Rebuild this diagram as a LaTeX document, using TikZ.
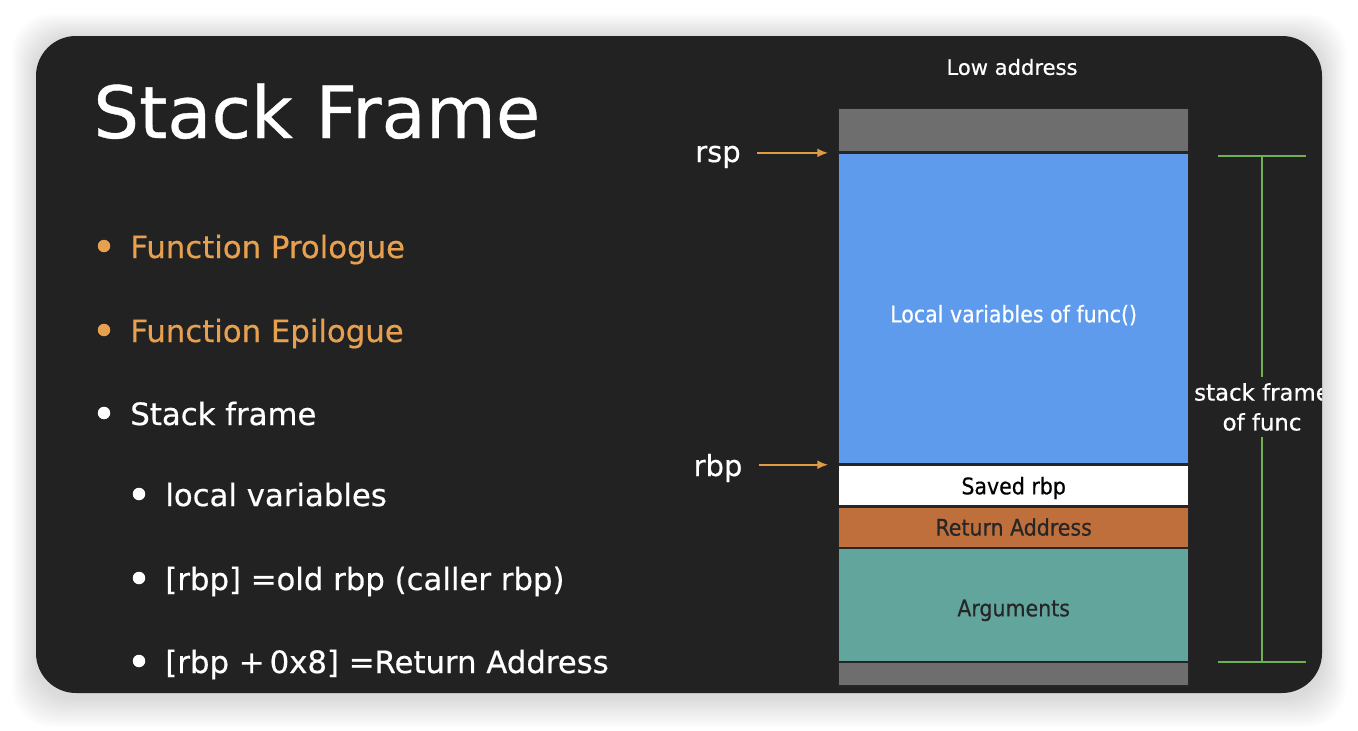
\documentclass[tikz,border=0pt]{standalone}
\usepackage{fontspec}
\setmainfont{DejaVu Sans}[FakeBold=0.5]
\newfontfamily\narrowfont{DejaVu Sans Condensed}[FakeBold=0.5]
\usepackage{tikz}
\usetikzlibrary{positioning}
\usetikzlibrary{arrows.meta}
\usepackage{xcolor}

\definecolor{panelbg}{HTML}{222222}
\definecolor{accent}{HTML}{E6A04E}
\definecolor{ptror}{HTML}{E39A45}
\definecolor{slotgray}{HTML}{6E6E6E}
\definecolor{localblue}{HTML}{5F9BEC}
\definecolor{retor}{HTML}{BF6F3B}
\definecolor{argteal}{HTML}{62A59D}
\definecolor{framegreen}{HTML}{6FAF55}

\begin{document}
\begin{tikzpicture}[x=0.02cm, y=-0.02cm,
    slot/.style={draw=black!85, line width=0.8pt, minimum width=7cm, inner sep=0pt,
        font=\narrowfont\fontsize{13}{15}\selectfont},
    ptr/.style={-{Latex[length=6pt,width=5pt]}, draw=ptror, line width=1pt,
        shorten <=0.32cm, shorten >=0.2cm},
    dot/.style={circle, inner sep=0pt, minimum size=0.25cm},
    item/.style={anchor=base west, inner sep=0pt, font=\fontsize{17.5}{20}\selectfont},
    reg/.style={anchor=base, inner sep=0pt, text=white, font=\fontsize{16.5}{20}\selectfont},
    brace/.style={draw=framegreen, line width=0.9pt}]
    \useasboundingbox[fill=white] (0,0) rectangle (1358,730);

    % Slide panel with a soft shadow
    \foreach \i in {1,...,12}
        \fill[black, opacity=0.012, rounded corners=0.8cm]
            (36-2*\i,38-2*\i) rectangle (1322+2*\i,697+2.5*\i);
    \fill[panelbg, rounded corners=0.8cm] (36,36) rectangle (1322,693);

    \begin{scope}
    \clip[rounded corners=0.8cm] (36,36) rectangle (1322,693);

    % Title and bullet list
    \node (title) [anchor=base west, inner sep=0pt, text=white, font=\fontsize{41}{46}\selectfont] at (93,138) {Stack Frame};

    \node (d1) [dot, fill=accent] at (104,246) {};
    \node (prologue) [item, text=accent] at (130,258) {Function Prologue};
    \node (d2) [dot, fill=accent] at (104,330) {};
    \node (epilogue) [item, text=accent] at (130,342) {Function Epilogue};
    \node (d3) [dot, fill=white] at (104,413) {};
    \node (frame) [item, text=white] at (130,425) {Stack frame};
    \node (d4) [dot, fill=white] at (139,494) {};
    \node (locals) [item, text=white] at (165,506) {local variables};
    \node (d5) [dot, fill=white] at (139,578) {};
    \node (oldrbp) [item, text=white] at (165,590) {[rbp] =old rbp (caller rbp)};
    \node (d6) [dot, fill=white] at (139,661) {};
    \node (retaddr) [item, text=white] at (165,673) {[rbp +\,0x8] =Return Address};

    % Stack slots
    \node (low) [text=white, font=\fontsize{12}{14}\selectfont] at (1012,67) {Low address};
    \node (gtop) [slot, fill=slotgray, minimum height=0.87cm, anchor=north west] at (838,108) {};
    \node (lvars) [slot, fill=localblue, minimum height=6.21cm, below=0pt of gtop, text=white,
        text height=0.6cm] {Local variables of func()};
    \node (saved) [slot, fill=white, minimum height=0.8cm, below=0pt of lvars, text=black,
        text height=0.45cm] {Saved rbp};
    \node (ret) [slot, fill=retor, minimum height=0.81cm, below=0pt of saved, text=black!85] {Return Address};
    \node (args) [slot, fill=argteal, minimum height=2.25cm, below=0pt of ret, text=black!85,
        text height=0.55cm] {Arguments};
    \node (gbot) [slot, fill=slotgray, minimum height=0.47cm, below=0pt of args] {};

    % Register pointers
    \node (rsp) [reg] at (718,162) {rsp};
    \node (rbp) [reg] at (718,476) {rbp};
    \draw[ptr] (rsp.east |- lvars.north) -- (lvars.north west);
    \draw[ptr] (rbp.east |- saved.north) -- (saved.north west);

    % Frame extent
    \coordinate (ftop) at (1262,156);
    \coordinate (fbot) at (1262,662);
    \node (fdesc) [align=center, text=white, font=\fontsize{13}{17}\selectfont] at (1262,407) {stack frame\\of func};
    \draw[brace] (1218,156) -- (1306,156);
    \draw[brace] (1218,662) -- (1306,662);
    \draw[brace] (ftop) -- (fdesc.north);
    \draw[brace] (fdesc.south) -- (fbot);
    \end{scope}
\end{tikzpicture}
\end{document}
